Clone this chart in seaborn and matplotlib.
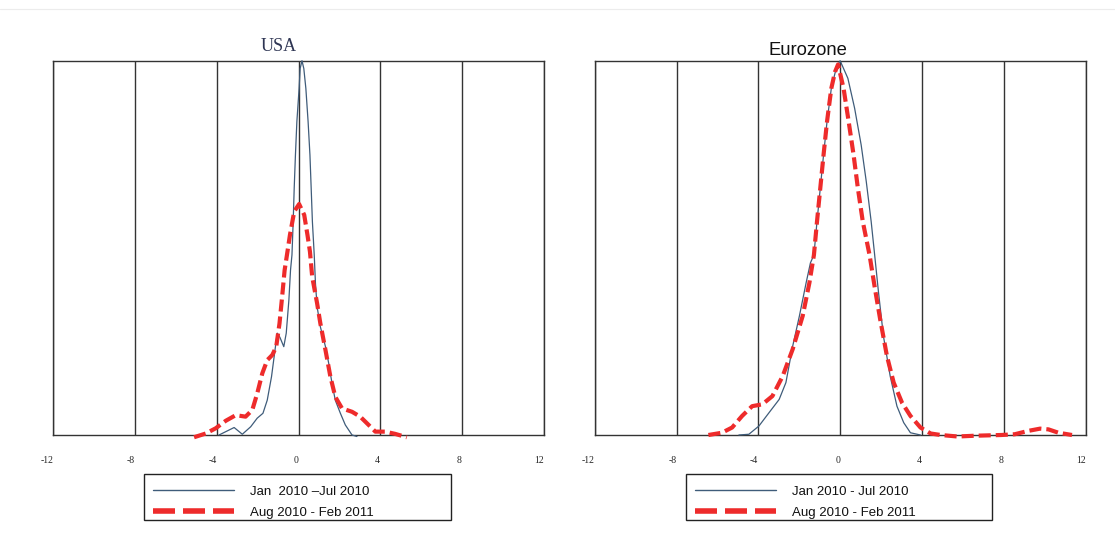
import numpy as np
import pandas as pd
import seaborn as sns
import matplotlib
matplotlib.use("Agg")
import matplotlib.pyplot as plt
from matplotlib.lines import Line2D
from matplotlib.patches import Rectangle
from matplotlib.transforms import ScaledTranslation

# ---------------- data (y = share of panel height) ----------------
usa_p1_x = [-3.89, -3.15, -2.75, -2.34, -2.02, -1.74, -1.53, -1.32, -1.15, -1.04, -0.91, -0.72,
            -0.60, -0.47, -0.39, -0.32, -0.26, -0.21, -0.15, -0.08, 0.03, 0.08, 0.17, 0.26, 0.36,
            0.47, 0.56, 0.62, 0.68, 0.77, 0.83, 0.91, 1.07, 1.32, 1.48, 1.64, 1.80, 2.05, 2.29,
            2.62, 2.86]
usa_p1_y = [0.0, 0.020, 0.002, 0.022, 0.045, 0.058, 0.093, 0.156, 0.227, 0.272, 0.261, 0.236,
            0.272, 0.361, 0.441, 0.481, 0.570, 0.660, 0.748, 0.837, 0.926, 0.979, 1.0, 0.979, 0.926,
            0.837, 0.748, 0.660, 0.570, 0.481, 0.405, 0.343, 0.289, 0.236, 0.191, 0.138, 0.093, 0.058, 0.027,
            0.0, -0.004]

usa_p2_x = [-5.11, -4.54, -4.05, -3.56, -3.07, -2.59, -2.26, -2.02, -1.77, -1.53, -1.28, -1.09,
            -0.93, -0.80, -0.68, -0.54, -0.42, -0.21, 0.03, 0.28, 0.44, 0.56, 0.67, 0.91, 1.07,
            1.32, 1.56, 1.80, 2.13, 2.62, 3.02, 3.43, 3.76, 4.24, 4.73, 5.30]
usa_p2_y = [-0.006, 0.004, 0.018, 0.038, 0.053, 0.049, 0.067, 0.111, 0.165, 0.200, 0.214, 0.236,
            0.298, 0.370, 0.440, 0.490, 0.534, 0.597, 0.617, 0.588, 0.534, 0.490, 0.423, 0.352, 0.298,
            0.227, 0.156, 0.102, 0.071, 0.062, 0.049, 0.027, 0.009, 0.009, 0.003, -0.006]

ez_p1_x = [-4.95, -4.46, -3.97, -3.47, -2.98, -2.65, -2.32, -1.99, -1.66, -1.45, -1.28, -1.13,
           -0.97, -0.81, -0.64, -0.43, -0.19, 0.00, 0.38, 0.71, 1.03, 1.28, 1.52, 1.69, 1.88,
           2.12, 2.45, 2.78, 3.11, 3.44, 3.93]
ez_p1_y = [0.0, 0.002, 0.024, 0.060, 0.095, 0.140, 0.237, 0.318, 0.407, 0.460, 0.481, 0.570,
           0.659, 0.748, 0.837, 0.926, 0.980, 1.0, 0.953, 0.873, 0.775, 0.677, 0.570, 0.481, 0.380,
           0.264, 0.157, 0.077, 0.033, 0.006, 0.0]

ez_p2_x = [-6.44, -5.78, -5.28, -4.79, -4.30, -3.80, -3.31, -2.81, -2.32, -1.83, -1.50, -1.28,
           -1.13, -0.97, -0.81, -0.64, -0.43, -0.25, -0.10, 0.17, 0.42, 0.66, 0.87, 1.11, 1.44,
           1.71, 1.96, 2.29, 2.62, 3.03, 3.44, 3.93, 4.43, 4.92, 5.74, 6.57, 7.88, 8.54, 9.20,
           9.78, 10.19, 10.68, 11.34]
ez_p2_y = [0.0, 0.006, 0.020, 0.051, 0.077, 0.082, 0.104, 0.157, 0.229, 0.318, 0.407, 0.481,
           0.570, 0.659, 0.748, 0.837, 0.926, 0.970, 0.990, 0.926, 0.837, 0.748, 0.659, 0.570, 0.481,
           0.389, 0.309, 0.211, 0.140, 0.086, 0.051, 0.020, 0.004, 0.0, -0.004, -0.002, 0.0, 0.002, 0.011,
           0.017, 0.015, 0.006, 0.0]

tick_values = [-12, -8, -4, 0, 4, 8, 12]
tick_labels = ["-12", "-8", "-4", "0", "4", "8", "12"]

panel_titles = ["USA", "Eurozone"]
legend_labels = [["Jan  2010 \u2013Jul 2010", "Aug 2010 - Feb 2011"],
                 ["Jan 2010 - Jul 2010", "Aug 2010 - Feb 2011"]]

# ---------------- styling ----------------
sns.set_style("white")
plt.rcParams["font.family"] = ["Liberation Sans", "DejaVu Sans"]

BLUE = "#3f5c7a"
RED = "#ee2b2b"
FRAME = "#333333"

W, H = 1115, 544
fig = plt.figure(figsize=(W / 100, H / 100), dpi=100)
fig.patch.set_facecolor("white")

# faint top border line
fig.add_artist(Line2D([0.0, 1.0], [1 - 8.5 / H, 1 - 8.5 / H], color="#ececec", lw=0.8))

ax_boxes = [(53.3, 543.7), (594.7, 1085.5)]
top_px, bot_px = 60.7, 435.0

data = [
    (usa_p1_x, usa_p1_y, usa_p2_x, usa_p2_y),
    (ez_p1_x, ez_p1_y, ez_p2_x, ez_p2_y),
]

title_pos = [(278.5, 46.9), (807.7, 50.5)]
legend_frames = [(144.3, 474.0, 451.0, 520.0), (685.6, 474.0, 992.4, 520.0)]
handle_starts = [153.3, 695.4]

FS = 9.5
fs_px = FS * 100 / 72
BORDERPAD = 0.55

for i, ((l, r), (x1, y1, x2, y2)) in enumerate(zip(ax_boxes, data)):
    ax = fig.add_axes([l / W, 1 - bot_px / H, (r - l) / W, (bot_px - top_px) / H])
    ax.set_facecolor("white")

    df1 = pd.DataFrame({"x": x1, "y": y1})
    df2 = pd.DataFrame({"x": x2, "y": y2})
    sns.lineplot(data=df1, x="x", y="y", ax=ax, color=BLUE, lw=0.9, sort=False,
                 estimator=None, clip_on=False, zorder=3)
    sns.lineplot(data=df2, x="x", y="y", ax=ax, color=RED, lw=3.0, sort=False,
                 estimator=None, clip_on=False, zorder=4)
    ax.lines[-1].set_dashes([2.9, 1.2])
    ax.lines[-1].set_dash_capstyle("butt")
    ax.lines[-1].set_solid_joinstyle("round")

    ax.set_xlim(-12, 12)
    ax.set_ylim(0, 1)
    ax.set_xlabel("")
    ax.set_ylabel("")
    ax.set_yticks([])
    ax.set_xticks(tick_values)
    ax.set_xticklabels(tick_labels, fontsize=7, family=["Liberation Serif", "DejaVu Serif"],
                       ha="right")
    off = ScaledTranslation(-3 / 100, 0, fig.dpi_scale_trans)
    for lab in ax.get_xticklabels():
        lab.set_transform(lab.get_transform() + off)
    ax.tick_params(axis="x", direction="out", length=12.3, width=1.0, color=FRAME, pad=3.0)
    ax.grid(axis="x", color=FRAME, lw=1.0)
    ax.grid(axis="y", visible=False)
    for sp in ax.spines.values():
        sp.set_visible(True)
        sp.set_color(FRAME)
        sp.set_linewidth(1.0)

    tx, ty = title_pos[i]
    if i == 0:
        fig.text(tx / W, 1 - ty / H, panel_titles[i], ha="center", va="center", fontsize=13,
                 family=["Liberation Serif", "DejaVu Serif"], color="#2e3553")
    else:
        fig.text(tx / W, 1 - ty / H, panel_titles[i], ha="center", va="center", fontsize=13.3,
                 color="#111111")

    # legend frame (drawn underneath everything else)
    fl, ft, fr, fb = legend_frames[i]
    fig.add_artist(Rectangle((fl / W, 1 - fb / H), (fr - fl) / W, (fb - ft) / H,
                             transform=fig.transFigure, facecolor="none",
                             edgecolor="#222222", lw=1.0, zorder=-1))

    # legend entries
    h1 = Line2D([], [], color=BLUE, lw=1.0)
    h2 = Line2D([], [], color=RED, lw=4.0, dashes=[3.96, 1.44], dash_capstyle="butt")
    lx = handle_starts[i] - BORDERPAD * fs_px
    ly = 478.3
    leg = ax.legend([h1, h2], legend_labels[i], loc="upper left",
                    bbox_to_anchor=(lx / W, 1 - ly / H),
                    bbox_transform=fig.transFigure, borderaxespad=0,
                    frameon=False, fontsize=FS,
                    handlelength=6.14, handletextpad=1.21, labelspacing=0.68,
                    borderpad=BORDERPAD)
    for t in leg.get_texts():
        t.set_color("#111111")

fig.savefig("out.png", dpi=100, facecolor="white")
